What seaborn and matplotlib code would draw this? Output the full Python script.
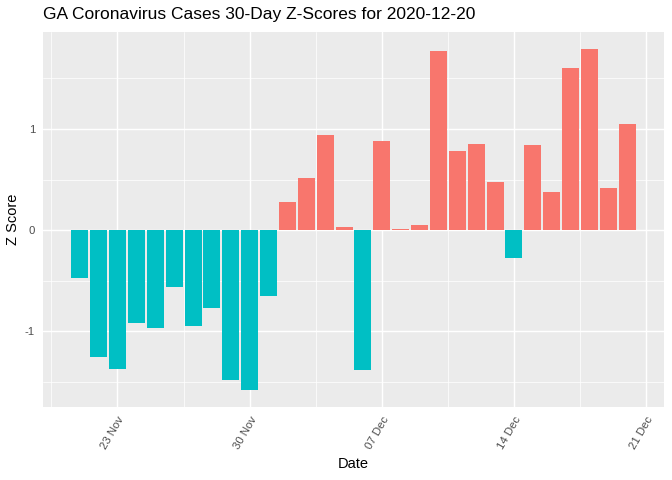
import numpy as np
import pandas as pd
import matplotlib
matplotlib.use("Agg")
import matplotlib.pyplot as plt
import matplotlib.dates as mdates
from matplotlib.ticker import FixedLocator
import seaborn as sns

dates = pd.date_range("2020-11-21", "2020-12-20", freq="D")
zscores = [-0.47, -1.25, -1.37, -0.92, -0.97, -0.56, -0.95, -0.77, -1.48, -1.58,
           -0.65, 0.28, 0.52, 0.94, 0.03, -1.38, 0.88, 0.01, 0.05, 1.77,
           0.78, 0.85, 0.48, -0.28, 0.84, 0.38, 1.60, 1.79, 0.42, 1.05]
title = "GA Coronavirus Cases 30-Day Z-Scores for 2020-12-20"
major_dates = ["2020-11-23", "2020-11-30", "2020-12-07", "2020-12-14", "2020-12-21"]
minor_dates = ["2020-11-19 12:00", "2020-11-26 12:00", "2020-12-03 12:00",
               "2020-12-10 12:00", "2020-12-17 12:00"]
y_major = [-1, 0, 1]
y_minor = [-1.5, -0.5, 0.5, 1.5]

df = pd.DataFrame({"date": mdates.date2num(dates), "z": zscores})
df["neg"] = np.where(df["z"] < 0, "neg", "pos")

sns.set_theme(style="darkgrid")
plt.rcParams["font.family"] = ["Liberation Sans", "DejaVu Sans"]

fig = plt.figure(figsize=(7, 5), dpi=96)
ax = fig.add_axes([43 / 672, 1 - 407 / 480, (664 - 43) / 672, (407 - 32) / 480])
ax.set_facecolor("#EBEBEB")

sns.barplot(data=df, x="date", y="z", hue="neg",
            palette={"neg": "#00BFC4", "pos": "#F8766D"},
            native_scale=True, dodge=False, width=0.9, saturation=1,
            legend=False, ax=ax, linewidth=0)

xmin = df["date"].min() - 0.45
xmax = df["date"].max() + 0.45
xr = xmax - xmin
ax.set_xlim(xmin - 0.05 * xr, xmax + 0.05 * xr)
ymin, ymax = min(0, min(zscores)), max(0, max(zscores))
yr = ymax - ymin
ax.set_ylim(ymin - 0.05 * yr, ymax + 0.05 * yr)

ax.xaxis.set_major_locator(FixedLocator(mdates.date2num(pd.to_datetime(major_dates))))
ax.xaxis.set_minor_locator(FixedLocator(mdates.date2num(pd.to_datetime(minor_dates))))
ax.xaxis.set_major_formatter(mdates.DateFormatter("%d %b"))
ax.yaxis.set_major_locator(FixedLocator(y_major))
ax.yaxis.set_minor_locator(FixedLocator(y_minor))
ax.set_yticklabels([str(v) for v in y_major])

ax.grid(which="major", color="white", linewidth=1.1)
ax.grid(which="minor", color="white", linewidth=0.55)
ax.set_axisbelow(True)
for s in ax.spines.values():
    s.set_visible(False)

ax.tick_params(axis="both", which="major", length=3.5, width=0.8, color="#333333",
               labelcolor="#4D4D4D", labelsize=8.5, pad=2.5)
ax.tick_params(axis="both", which="minor", length=0)
plt.setp(ax.get_xticklabels(), rotation=60, ha="right", va="top", rotation_mode="anchor")

ax.set_xlabel("Date", fontsize=11, color="black", labelpad=4)
ax.set_ylabel("Z Score", fontsize=11, color="black", labelpad=4)
fig.text(43 / 672, 1 - 15 / 480, title, fontsize=13, color="black", ha="left", va="center")

fig.savefig("out.png", dpi=96)
